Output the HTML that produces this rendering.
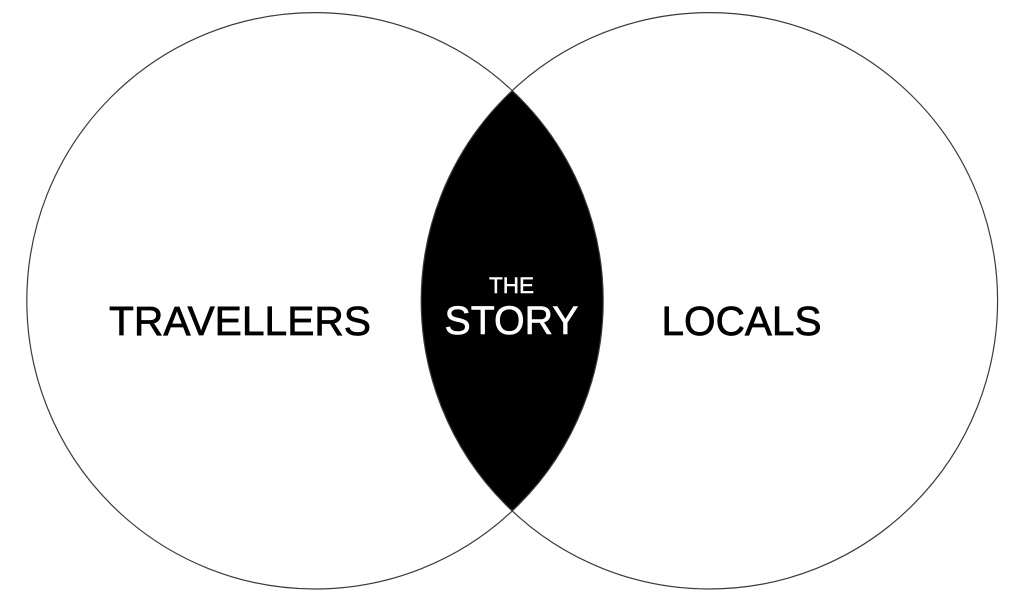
<!DOCTYPE html>
<html>
<head>
<meta charset="utf-8">
<style>
  html, body { margin: 0; padding: 0; background: #fff; }
  body { width: 1024px; height: 603px; overflow: hidden; }
  svg { display: block; }
  text { font-family: "Liberation Sans", Arial, Helvetica, sans-serif; }
</style>
</head>
<body>
<svg width="1024" height="603" viewBox="0 0 1024 603" xmlns="http://www.w3.org/2000/svg">
  <rect x="0" y="0" width="1024" height="603" fill="#ffffff"/>
  <path d="M512.2,90.6 A288.2,288.2 0 0,0 512.2,511 A288.2,288.2 0 0,0 512.2,90.6 Z" fill="#000"/>
  <circle cx="315" cy="300.8" r="288.2" fill="none" stroke="#3a3a3a" stroke-width="1.2"/>
  <circle cx="709.4" cy="300.8" r="288.2" fill="none" stroke="#3a3a3a" stroke-width="1.2"/>
  <text x="240" y="335" font-size="41" text-anchor="middle" fill="#000" stroke="#000" stroke-width="0.7" textLength="262" lengthAdjust="spacingAndGlyphs">TRAVELLERS</text>
  <text x="741.5" y="335" font-size="41" text-anchor="middle" fill="#000" stroke="#000" stroke-width="0.7" textLength="160" lengthAdjust="spacingAndGlyphs">LOCALS</text>
  <text x="511.5" y="293" font-size="22.5" text-anchor="middle" fill="#fff" stroke="#fff" stroke-width="0.4">THE</text>
  <text x="511.5" y="334" font-size="40" text-anchor="middle" fill="#fff" stroke="#fff" stroke-width="0.6" textLength="134" lengthAdjust="spacingAndGlyphs">STORY</text>
</svg>
</body>
</html>
